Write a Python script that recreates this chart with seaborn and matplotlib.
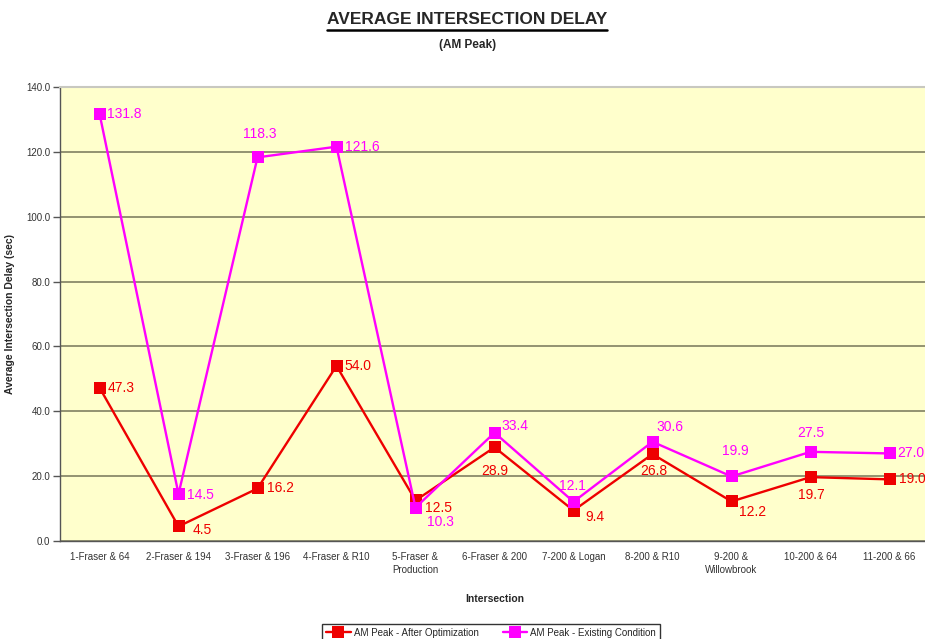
import seaborn as sns
import matplotlib.pyplot as plt
import pandas as pd
from matplotlib.lines import Line2D

# -----------------------------
# data
# -----------------------------
intersections = ["1-Fraser & 64", "2-Fraser & 194", "3-Fraser & 196", "4-Fraser & R10",
                 "5-Fraser &\nProduction", "6-Fraser & 200", "7-200 & Logan", "8-200 & R10",
                 "9-200 &\nWillowbrook", "10-200 & 64", "11-200 & 66"]
after_opt = [47.3, 4.5, 16.2, 54.0, 12.5, 28.9, 9.4, 26.8, 12.2, 19.7, 19.0]
existing = [131.8, 14.5, 118.3, 121.6, 10.3, 33.4, 12.1, 30.6, 19.9, 27.5, 27.0]
series_names = ["AM Peak - After Optimization", "AM Peak - Existing Condition"]
y_ticks = [0, 20, 40, 60, 80, 100, 120, 140]

df = pd.DataFrame({
    "pos": list(range(len(intersections))) * 2,
    "delay": after_opt + existing,
    "series": [series_names[0]] * len(after_opt) + [series_names[1]] * len(existing),
})

# label placement (ha, dx px, dy px)
red_offsets = [("left", 8, 0), ("left", 14, -4), ("left", 9, 0), ("left", 8, 0), ("left", 10, -8),
               ("center", 0, -24), ("left", 12, -6), ("center", 1, -17), ("left", 7, -11),
               ("center", 1, -18), ("left", 9, 0)]
mag_offsets = [("left", 8, 0), ("left", 9, -1), ("center", 2, 23), ("left", 8, 0), ("left", 11, -14),
               ("left", 7, 7), ("center", -1, 16), ("left", 4, 15), ("center", 4, 25),
               ("center", 0, 19), ("left", 8, 0)]

RED = "#ee0000"
MAG = "#ff00ff"

sns.set_style("white")
plt.rcParams["font.family"] = ["Liberation Sans", "DejaVu Sans"]

fig = plt.figure(figsize=(9.25, 6.39), dpi=100)
ax = fig.add_axes([60 / 925, 1 - 541 / 639, 869 / 925, 454 / 639])
ax.set_facecolor("#ffffcc")

sns.lineplot(data=df, x="pos", y="delay", hue="series", style="series",
             palette={series_names[0]: RED, series_names[1]: MAG},
             markers=["s", "s"], dashes=False, linewidth=1.7, markersize=8,
             markeredgewidth=0, ax=ax, legend=True)

for vals, offs, col in [(after_opt, red_offsets, RED), (existing, mag_offsets, MAG)]:
    for i, (v, (ha, dx, dy)) in enumerate(zip(vals, offs)):
        ax.annotate(f"{v:.1f}", (i, v), xytext=(dx, dy), textcoords="offset pixels",
                    ha=ha, va="center", fontsize=10, color=col)

ax.set_xlim(-0.5, 10.5)
ax.set_ylim(0, 140)
ax.set_yticks(y_ticks)
ax.set_yticklabels([f"{t:.1f}" for t in y_ticks])
ax.yaxis.grid(True, color="#8a8a6a", linewidth=1.3)
ax.set_axisbelow(True)

ax.set_xticks(range(len(intersections)))
ax.set_xticklabels(intersections, fontsize=7, color="#333333", linespacing=1.3)
ax.set_xticks([i + 0.5 for i in range(-1, len(intersections))], minor=True)
ax.tick_params(axis="x", which="major", length=0, pad=8)
ax.tick_params(axis="x", which="minor", length=5, width=1, color="#555555", direction="out")
ax.tick_params(axis="y", length=5, width=1, color="#555555", direction="out", labelsize=7,
               labelcolor="#333333", pad=2)
ax.tick_params(bottom=True, left=True)

ax.spines["right"].set_visible(False)
ax.spines["top"].set_color("#c8c8c0")
ax.spines["top"].set_linewidth(1.5)
for side in ["left", "bottom"]:
    ax.spines[side].set_color("#555555")
    ax.spines[side].set_linewidth(1)

ax.set_xlabel("Intersection", fontsize=7.5, fontweight="bold", labelpad=14)
ax.set_ylabel("Average Intersection Delay (sec)", fontsize=7.5, fontweight="bold", labelpad=8)

handles, labels = ax.get_legend_handles_labels()
ax.get_legend().remove()
fig.legend(handles, labels, loc="upper center", bbox_to_anchor=(491 / 925, 1 - 619 / 639),
           ncol=2, fontsize=7, frameon=True, fancybox=False, edgecolor="black",
           handlelength=2.5, columnspacing=2.5, borderpad=0.4, handletextpad=0.3)

title = fig.text(0.505, 1 - 19 / 639, "AVERAGE INTERSECTION DELAY", ha="center", va="center",
                 fontsize=12.5, fontweight="bold")
fig.text(0.505, 1 - 45 / 639, "(AM Peak)", ha="center", va="center", fontsize=8.5, fontweight="bold")

# underline the title
fig.canvas.draw()
bb = title.get_window_extent().transformed(fig.transFigure.inverted())
fig.add_artist(Line2D([bb.x0, bb.x1], [bb.y0 - 0.006, bb.y0 - 0.006], color="black",
                      linewidth=1.8, transform=fig.transFigure))

plt.savefig("out.png", dpi=100)
plt.close()
